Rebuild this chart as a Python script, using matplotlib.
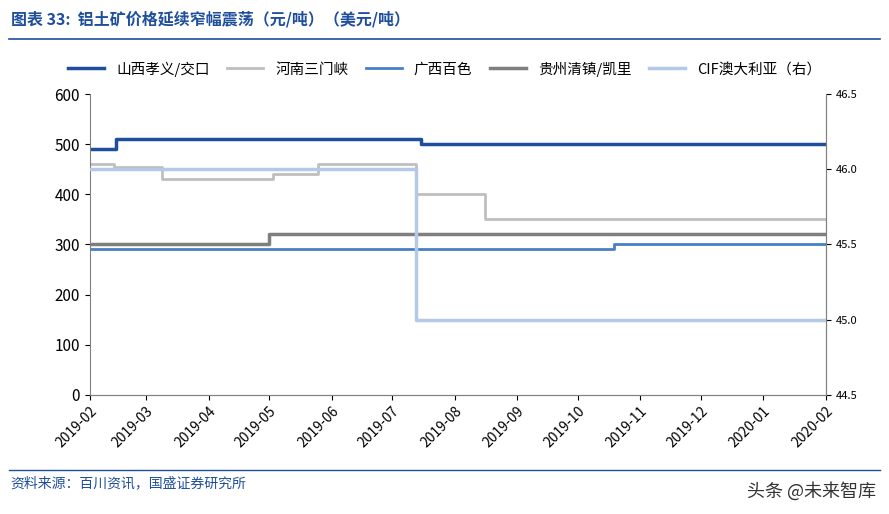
import matplotlib
matplotlib.use("Agg")
import matplotlib.pyplot as plt
import matplotlib.dates as mdates
import pandas as pd

plt.rcParams['font.family'] = ['Noto Sans CJK SC', 'DejaVu Sans']

sx_dates = ["2019-02-01", "2019-02-14", "2019-07-15", "2020-02-01"]
sx_vals = [490, 510, 500, 500]
hn_dates = ["2019-02-01", "2019-02-13", "2019-03-09", "2019-05-03", "2019-05-25", "2019-07-13", "2019-08-16", "2020-02-01"]
hn_vals = [460, 455, 430, 440, 460, 400, 350, 350]
gx_dates = ["2019-02-01", "2019-10-19", "2020-02-01"]
gx_vals = [290, 300, 300]
gz_dates = ["2019-02-01", "2019-05-01", "2020-02-01"]
gz_vals = [300, 320, 320]
cif_dates = ["2019-02-01", "2019-07-13", "2020-02-01"]
cif_vals = [46.0, 45.0, 45.0]

fig = plt.figure(figsize=(8.89, 5.14), dpi=100)
ax = fig.add_axes([0.101, 0.232, 0.828, 0.585])
ax2 = ax.twinx()

def d(lst):
    return pd.to_datetime(lst)

l1, = ax.plot(d(sx_dates), sx_vals, drawstyle='steps-post', color='#1f4e9c', lw=2.5, label='山西孝义/交口')
l2, = ax.plot(d(hn_dates), hn_vals, drawstyle='steps-post', color='#bfbfbf', lw=2, label='河南三门峡')
l3, = ax.plot(d(gx_dates), gx_vals, drawstyle='steps-post', color='#4a7fc8', lw=2, label='广西百色')
l4, = ax.plot(d(gz_dates), gz_vals, drawstyle='steps-post', color='#7f7f7f', lw=2.5, label='贵州清镇/凯里')
l5, = ax2.plot(d(cif_dates), cif_vals, drawstyle='steps-post', color='#b4c9e6', lw=2.5, label='CIF澳大利亚（右）')

ax.set_ylim(0, 600)
ax.set_yticks(range(0, 601, 100))
ax2.set_ylim(44.5, 46.5)
ax2.set_yticks([44.5, 45.0, 45.5, 46.0, 46.5])
ax2.set_yticklabels(['44.5', '45.0', '45.5', '46.0', '46.5'], fontsize=8)
ax.set_xlim(pd.Timestamp('2019-02-01'), pd.Timestamp('2020-02-01'))
ax.xaxis.set_major_locator(mdates.MonthLocator())
ax.xaxis.set_major_formatter(mdates.DateFormatter('%Y-%m'))
for lab in ax.get_xticklabels():
    lab.set_rotation(45)
    lab.set_ha('right')
    lab.set_rotation_mode('anchor')
ax.tick_params(axis='x', labelsize=10)
ax.tick_params(axis='y', labelsize=11)
for a in (ax, ax2):
    a.spines['top'].set_visible(False)
    for s in a.spines.values():
        s.set_color('#808080')
ax2.spines['left'].set_visible(False)

fig.legend(handles=[l1, l2, l3, l4, l5], loc='center', bbox_to_anchor=(0.5, 0.866), ncol=5,
           frameon=False, fontsize=10.5, handlelength=2.5, columnspacing=1.2)

fig.text(0.012, 0.962, '图表 33:  铝土矿价格延续窄幅震荡（元/吨）（美元/吨）', fontsize=11.5,
         color='#1f4e9c', style='italic', weight='bold', va='center')
fig.add_artist(plt.Line2D([0.01, 0.99], [0.925, 0.925], color='#1f4e9c', lw=1.2))
fig.add_artist(plt.Line2D([0.01, 0.99], [0.085, 0.085], color='#1f4e9c', lw=1.0))
fig.text(0.012, 0.06, '资料来源：百川资讯，国盛证券研究所', fontsize=10, color='#1f4e9c', style='italic', va='center')
fig.text(0.985, 0.045, '头条 @未来智库', fontsize=13, color='#333333', ha='right', va='center')

fig.savefig('out.png', dpi=100)
